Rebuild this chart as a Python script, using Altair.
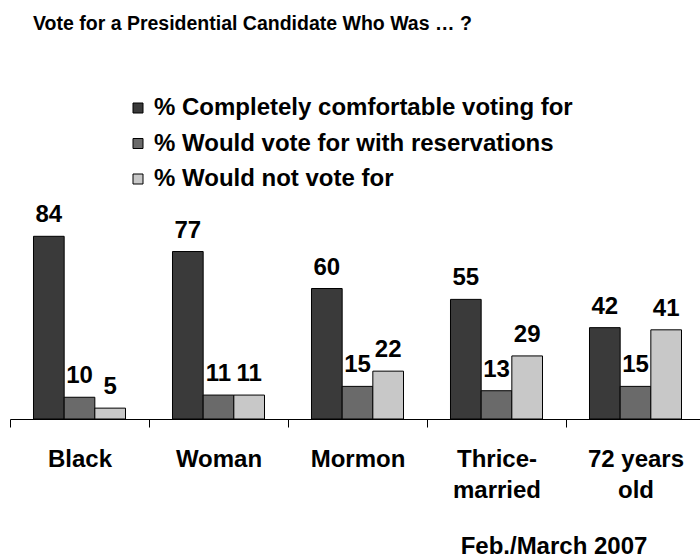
import altair as alt
import pandas as pd

# ---- data ----
categories = ["Black", "Woman", "Mormon", "Thrice-|married", "72 years|old"]
series = [
    "% Completely comfortable voting for",
    "% Would vote for with reservations",
    "% Would not vote for",
]
comfortable = [84, 77, 60, 55, 42]
reservations = [10, 11, 15, 13, 15]
would_not = [5, 11, 22, 29, 41]
colors = ["#3a3a3a", "#6a6a6a", "#c8c8c8"]
title_text = ["Vote for a Presidential Candidate Who Was \u2026 ?"]
note_text = ["Feb./March 2007"]

rows = []
for i, c in enumerate(categories):
    for s, vals in zip(series, [comfortable, reservations, would_not]):
        rows.append({"category": c, "series": s, "value": vals[i]})
df = pd.DataFrame(rows)

FONT = "Liberation Sans, Arial, Helvetica, sans-serif"

x = alt.X(
    "category:N",
    sort=categories,
    scale=alt.Scale(range=[0, 695], paddingInner=0, paddingOuter=0),
    axis=alt.Axis(
        title=None,
        labelAngle=0,
        labelExpr="split(datum.label, '|')",
        labelFont=FONT,
        labelFontSize=24,
        labelFontWeight="bold",
        labelColor="black",
        labelLineHeight=31,
        labelPadding=20,
        labelLimit=300,
        tickSize=8,
        tickColor="black",
        tickWidth=1,
        domainColor="black",
        domainWidth=1,
        tickBand="extent",
        grid=False,
    ),
)
xo = alt.XOffset("series:N", sort=series, scale=alt.Scale(paddingInner=0, paddingOuter=0.766))
y = alt.Y("value:Q", scale=alt.Scale(domain=[0, 100]), axis=None)

bars = alt.Chart(df).mark_bar(stroke="black", strokeWidth=1).encode(
    x=x,
    xOffset=xo,
    y=y,
    color=alt.Color(
        "series:N",
        sort=series,
        scale=alt.Scale(domain=series, range=colors),
        legend=alt.Legend(
            title=None,
            orient="none",
            legendX=116,
            legendY=-105.5,
            direction="vertical",
            symbolType="square",
            symbolSize=100,
            symbolStrokeColor="black",
            symbolStrokeWidth=1,
            symbolOpacity=1,
            labelFont=FONT,
            labelFontSize=24,
            labelFontWeight="bold",
            labelColor="black",
            labelOffset=4,
            labelLimit=600,
            rowPadding=11.5,
            padding=0,
        ),
    ),
)

labels = alt.Chart(df).mark_text(
    dy=-14, baseline="alphabetic", font=FONT, fontSize=24, fontWeight="bold", color="black"
).encode(x=x, xOffset=xo, y=y, text="value:Q")

title_layer = alt.Chart(pd.DataFrame({"t": title_text})).mark_text(
    align="left", baseline="alphabetic", font=FONT, fontSize=19.5, fontWeight="bold", color="black"
).encode(x=alt.value(23), y=alt.value(-171.5), text="t:N")

note_layer = alt.Chart(pd.DataFrame({"t": note_text})).mark_text(
    align="center", baseline="alphabetic", font=FONT, fontSize=24, fontWeight="bold", color="black"
).encode(x=alt.value(544), y=alt.value(352.5), text="t:N")

chart = (
    alt.layer(bars, labels, title_layer, note_layer)
    .properties(
        width=690,
        height=217.5,
        autosize=alt.AutoSizeParams(type="none"),
        padding={"left": 10, "top": 201.5, "right": 0, "bottom": 140},
        background="white",
    )
    .configure_view(stroke=None)
)

chart.save("out.html", embed_options={"renderer": "svg", "actions": False})
